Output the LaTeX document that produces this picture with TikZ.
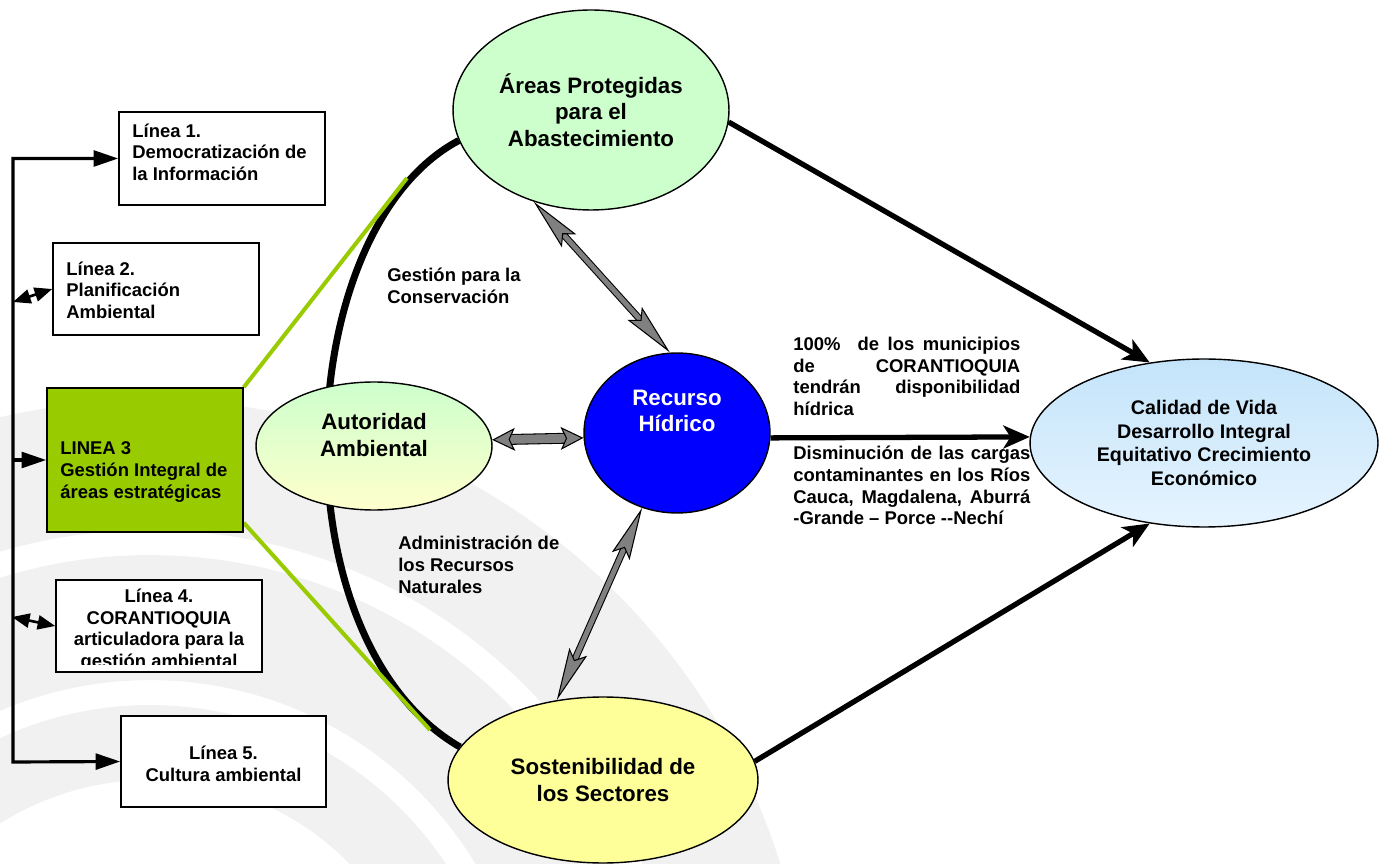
\documentclass[tikz,border=0pt]{standalone}
\usepackage{fontspec}
\setmainfont{Liberation Sans}
\usetikzlibrary{shapes.geometric,arrows.meta,calc,backgrounds}
\definecolor{areasC}{HTML}{CCFFCC}
\definecolor{autTop}{HTML}{CCFFCC}
\definecolor{autBot}{HTML}{FFFFCC}
\definecolor{recC}{HTML}{0000FF}
\definecolor{sostC}{HTML}{FFFF99}
\definecolor{calTop}{HTML}{C4E4FA}
\definecolor{calBot}{HTML}{E6F4FF}
\definecolor{limeC}{HTML}{99CC00}
\definecolor{wmC}{HTML}{F1F1F1}
\definecolor{grayA}{HTML}{808080}
\tikzset{
  triTip/.tip={Triangle[length=14pt,width=9pt]},
  smTip/.tip={Triangle[length=10pt,width=8pt]},
  bTip/.tip={Stealth[length=15pt,width=13pt,inset=4pt]},
  gTip/.tip={Stealth[length=30pt,width=11pt,inset=5pt,fill=grayA]},
  ghTip/.tip={Stealth[length=13pt,width=13pt,inset=3pt,fill=grayA]},
}
\begin{document}
\begin{tikzpicture}[x=0.02cm,y=-0.02cm,
  ell/.style={ellipse, draw=black, line width=0.8pt, inner sep=0pt},
  box/.style={rectangle, draw=black, line width=0.9pt, fill=white, inner sep=0pt},
  boxtxt/.style={font=\fontsize{10.5}{12.3}\selectfont\bfseries, inner sep=0pt},
  bigtxt/.style={font=\fontsize{12.7}{15}\selectfont\bfseries, align=center, inner sep=0pt},
  spine/.style={line width=1.8pt},
  bArrow/.style={line width=3pt, -bTip},
  gArrow/.style={draw=black, line width=0.6pt, double=grayA, double distance=2.8pt, gTip-gTip},
  gArrowH/.style={draw=black, line width=0.6pt, double=grayA, double distance=5pt, ghTip-ghTip},
  limeLine/.style={draw=limeC, line width=2.3pt},
  bigArc/.style={line width=4pt},
]
\useasboundingbox (0,0) rectangle (1383,864);

% ellipses
\node[ell, fill=areasC, minimum width=5.52cm, minimum height=4cm, bigtxt] (areas) at (591,110) {Áreas Protegidas\\para el\\Abastecimiento};
\node[ell, top color=autTop, bottom color=autBot, minimum width=4.72cm, minimum height=2.56cm] (aut) at (374,446) {};
\node[bigtxt] (autT) at (374,435) {Autoridad\\Ambiental};
\node[ell, fill=recC, minimum width=3.72cm, minimum height=3.2cm] (rec) at (677,433) {};
\node[bigtxt, text=white] (recT) at (677,411) {Recurso\\Hídrico};
\node[ell, fill=sostC, minimum width=6.2cm, minimum height=3.32cm, bigtxt] (sost) at (603,780) {Sostenibilidad de\\los Sectores};
\node[ell, top color=calTop, bottom color=calBot, minimum width=6.96cm, minimum height=3.36cm,
      font=\fontsize{11.2}{13.3}\selectfont\bfseries, align=center] (cal) at (1204,443)
      {Calidad de Vida\\Desarrollo Integral\\Equitativo Crecimiento\\Económico};

% boxes
\node[box, minimum width=4.12cm, minimum height=1.86cm] (l1) at (222,158.5) {};
\node[boxtxt, anchor=west, align=left] (l1t) at (132,152) {Línea 1.\\Democratización de\\la Información};
\node[box, minimum width=4.12cm, minimum height=1.84cm] (l2) at (156,289) {};
\node[boxtxt, anchor=west, align=left] (l2t) at (66,290) {Línea 2.\\Planificación\\Ambiental};
\node[box, fill=limeC, minimum width=3.92cm, minimum height=2.88cm] (l3) at (145,460) {};
\node[boxtxt, anchor=west, align=left] (l3t) at (60,472) {LINEA 3\\Gestión Integral de\\áreas estratégicas};
\node[box, minimum width=4.12cm, minimum height=1.84cm] (l4) at (159,626) {};
\begin{scope}
  \clip ($(l4.north west)+(1,1)$) rectangle ($(l4.south east)+(-1,-8)$);
  \node[boxtxt, align=center] (l4t) at (159,630) {Línea 4.\\CORANTIOQUIA\\articuladora para la\\gestión ambiental};
\end{scope}
\node[box, minimum width=4.1cm, minimum height=1.82cm] (l5) at (223.5,761.5) {};
\node[boxtxt, align=center] (l5t) at (223.5,764) {Línea 5.\\Cultura ambiental};

% free texts
\node[boxtxt, anchor=north west, align=left] (gcons) at (387,268) {Gestión para la\\Conservación};
\node[boxtxt, anchor=north west, align=left] (admin) at (398,536) {Administración de\\los Recursos\\Naturales};
\node[boxtxt, anchor=north west, align=left] (cien) at (793,337)
  {\makebox[4.54cm][s]{100\% \ de los municipios}\\\makebox[4.54cm][s]{de CORANTIOQUIA}\\\makebox[4.54cm][s]{tendrán disponibilidad}\\hídrica};
\node[boxtxt, anchor=north west, align=left] (dism) at (793,446)
  {\makebox[4.74cm][s]{Disminución de las cargas}\\\makebox[4.74cm][s]{contaminantes en los Ríos}\\\makebox[4.74cm][s]{Cauca, Magdalena, Aburrá}\\-Grande – Porce -{}-Nechí};

% coordinates
\coordinate (spineB) at (13,762);
\coordinate (s2) at (13,302);
\coordinate (s4) at (12,617);
\coordinate (g1) at (407,178);
\coordinate (g2) at (430,730);

% background: watermark, arc, green lines
\begin{scope}[on background layer]
  \fill[white] (0,0) rectangle (1383,864);
  \begin{scope}
    \clip (0,0) rectangle (1383,864);
    \fill[wmC, even odd rule] (150,1060) circle [radius=13.2cm] circle [radius=10.6cm];
    \fill[wmC, even odd rule] (150,1060) circle [radius=10.1cm] circle [radius=7.6cm];
    \fill[wmC, even odd rule] (150,1060) circle [radius=7.1cm] circle [radius=5.6cm];
  \end{scope}
  \draw[bigArc] (areas.193) .. controls (290,230) and (275,640) .. (sost.167);
  \draw[limeLine] (l3.north east) -- (g1);
  \draw[limeLine] ($(l3.south east)+(0,-10)$) -- (g2);
\end{scope}

% spine connectors
\draw[spine, triTip-triTip] (l1.west) -| (spineB) -- (l5.west);
\draw[spine, -triTip] (spineB |- l3.west) -- (l3.west);
\draw[line width=1.5pt, smTip-smTip] (s2) -- (l2.west);
\draw[line width=1.5pt, smTip-smTip] (s4) -- (l4.west);

% gray double arrows
\draw[gArrow] (areas.238) -- (rec.95);
\draw[gArrowH] (aut.3) -- (rec.183);
\draw[gArrow] (rec.245) -- (sost.120);

% black arrows
\draw[bArrow] (areas.-5) -- (cal.124);
\draw[bArrow] (rec.-3) -- (cal.178);
\draw[bArrow] (sost.7) -- (cal.236);
\end{tikzpicture}
\end{document}
